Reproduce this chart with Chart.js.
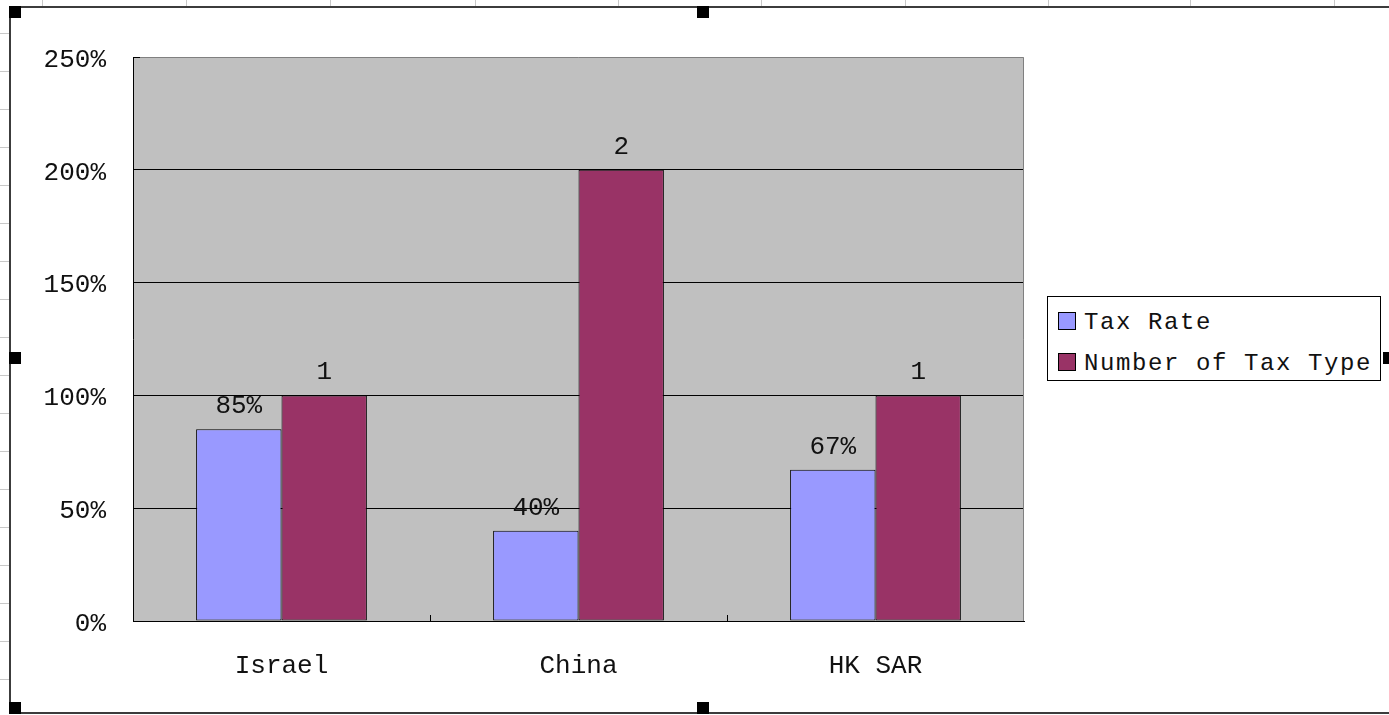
<!DOCTYPE html>
<html>
<head>
<meta charset="utf-8">
<script src="https://cdn.jsdelivr.net/npm/chart.js@4/dist/chart.umd.min.js"></script>
<style>
  html, body { margin: 0; padding: 0; background: #fff; }
  body { width: 1389px; height: 715px; position: relative; overflow: hidden; }
  #wrap { position: absolute; left: 0; top: 0; width: 1389px; height: 715px; }
  .sheet-v { position: absolute; top: 0; width: 1px; height: 6px; background: #c8c8c8; }
  .sheet-h { position: absolute; left: 0; width: 9px; height: 1px; background: #c8c8c8; }
  .frame { position: absolute; left: 9px; top: 6px; width: 1390px; height: 708px;
           border: 2px solid #3c3c3c; box-sizing: border-box; }
  .handle { position: absolute; width: 12px; height: 12px; background: #000; }
  #legend { position: absolute; left: 1047px; top: 296px; width: 334px; height: 85px;
            border: 1px solid #000; background: #fff; box-sizing: border-box;
            font-family: "Liberation Mono", monospace; font-size: 24px; letter-spacing: 1.6px; color: #111; }
  #legend .row { position: absolute; left: 10px; height: 24px; line-height: 24px; white-space: nowrap; }
  #legend .sw { display: inline-block; width: 16px; height: 16px; border: 1px solid #000;
                vertical-align: middle; margin-right: 8px; position: relative; top: -2px; }
</style>
</head>
<body>
<div class="frame"></div>
<div id="wrap"><canvas id="chart" width="1389" height="715"></canvas></div>
<div id="legend"></div>
<script>
// datos del gráfico
const categories = ['Israel', 'China', 'HK SAR'];
const taxRate = [0.85, 0.40, 0.67];
const taxTypeCount = [1, 2, 1];
const taxRateLabels = ['85%', '40%', '67%'];
const taxTypeLabels = ['1', '2', '1'];
const seriesNames = ['Tax Rate', 'Number of Tax Type'];
const seriesColors = ['#9999ff', '#993366'];
const yMax = 2.5;
const yStep = 0.5;

// líneas de la hoja de cálculo y tiradores de selección
[42, 186, 330, 475, 618, 761, 905, 1048, 1190, 1334].forEach(x => {
    const d = document.createElement('div');
    d.className = 'sheet-v';
    d.style.left = x + 'px';
    document.body.appendChild(d);
});
for (let y = 33; y < 715; y += 38) {
    const d = document.createElement('div');
    d.className = 'sheet-h';
    d.style.top = y + 'px';
    document.body.appendChild(d);
}
[[9, 6], [697, 6], [9, 352], [1383, 352], [9, 702], [697, 702]].forEach(p => {
    const h = document.createElement('div');
    h.className = 'handle';
    h.style.left = p[0] + 'px';
    h.style.top = p[1] + 'px';
    document.body.appendChild(h);
});

// leyenda
const legend = document.getElementById('legend');
seriesNames.forEach((name, i) => {
    const row = document.createElement('div');
    row.className = 'row';
    row.style.top = (14 + i * 41) + 'px';
    row.innerHTML = `<span class="sw" style="background:${seriesColors[i]}"></span>${name}`;
    legend.appendChild(row);
});

const FONT = { family: '"Liberation Mono", monospace', size: 26 };

// fondo gris del área de trazado
const plotBackground = {
    id: 'plotBackground',
    beforeDraw(chart) {
        const { ctx, chartArea: a } = chart;
        ctx.save();
        ctx.fillStyle = '#c0c0c0';
        ctx.fillRect(a.left, a.top, a.right - a.left, a.bottom - a.top);
        ctx.restore();
    },
    afterDraw(chart) {
        const { ctx, chartArea: a, scales } = chart;
        ctx.save();
        ctx.strokeStyle = '#808080';
        ctx.lineWidth = 1;
        ctx.beginPath();
        ctx.moveTo(a.left, a.top + 0.5);
        ctx.lineTo(a.right - 0.5, a.top + 0.5);
        ctx.lineTo(a.right - 0.5, a.bottom);
        ctx.stroke();
        // marcas de categoría hacia dentro
        ctx.strokeStyle = '#000';
        ctx.beginPath();
        for (let i = 0; i < categories.length - 1; i++) {
            const x = Math.round((scales.x.getPixelForValue(i) + scales.x.getPixelForValue(i + 1)) / 2) + 0.5;
            ctx.moveTo(x, a.bottom);
            ctx.lineTo(x, a.bottom - 6);
        }
        ctx.moveTo(a.left, a.top + 0.5);
        ctx.lineTo(a.left + 7, a.top + 0.5);
        ctx.stroke();
        ctx.restore();
    }
};

// etiquetas de valores encima de las barras
const valueLabels = {
    id: 'valueLabels',
    afterDatasetsDraw(chart) {
        const { ctx } = chart;
        const texts = [taxRateLabels, taxTypeLabels];
        ctx.save();
        ctx.font = `${FONT.size}px ${FONT.family}`;
        ctx.fillStyle = '#111';
        ctx.textAlign = 'center';
        ctx.textBaseline = 'middle';
        chart.data.datasets.forEach((ds, di) => {
            chart.getDatasetMeta(di).data.forEach((bar, i) => {
                ctx.fillText(texts[di][i], bar.x, bar.y - 23);
            });
        });
        ctx.restore();
    }
};

const ctx = document.getElementById('chart').getContext('2d');
const chart = new Chart(ctx, {
    type: 'bar',
    data: {
        labels: categories,
        datasets: [
            {
                label: seriesNames[0],
                data: taxRate,
                backgroundColor: seriesColors[0],
                borderColor: '#000',
                borderWidth: 1,
                borderSkipped: false
            },
            {
                label: seriesNames[1],
                data: taxTypeCount,
                backgroundColor: seriesColors[1],
                borderColor: '#000',
                borderWidth: 1,
                borderSkipped: false
            }
        ]
    },
    options: {
        responsive: false,
        animation: false,
        layout: { padding: { left: 0, right: 365, top: 57, bottom: 0 } },
        categoryPercentage: 0.575,
        barPercentage: 1.0,
        plugins: {
            legend: { display: false },
            tooltip: { enabled: false }
        },
        scales: {
            x: {
                grid: { display: false, drawTicks: false },
                border: { display: true, color: '#000', width: 1 },
                ticks: { font: FONT, color: '#111', padding: 30 },
                afterFit(scale) { scale.height = 94; }
            },
            y: {
                min: 0,
                max: yMax,
                grid: {
                    color: ctx => (ctx.tick && ctx.tick.value >= yMax ? 'rgba(0,0,0,0)' : '#000'),
                    lineWidth: 1,
                    drawTicks: false
                },
                border: { display: true, color: '#000', width: 1 },
                ticks: {
                    stepSize: yStep,
                    font: FONT,
                    color: '#111',
                    padding: 27,
                    labelOffset: 3,
                    callback: v => Math.round(v * 100) + '%'
                },
                afterFit(scale) { scale.width = 133; }
            }
        }
    },
    plugins: [plotBackground, valueLabels]
});
</script>
</body>
</html>
